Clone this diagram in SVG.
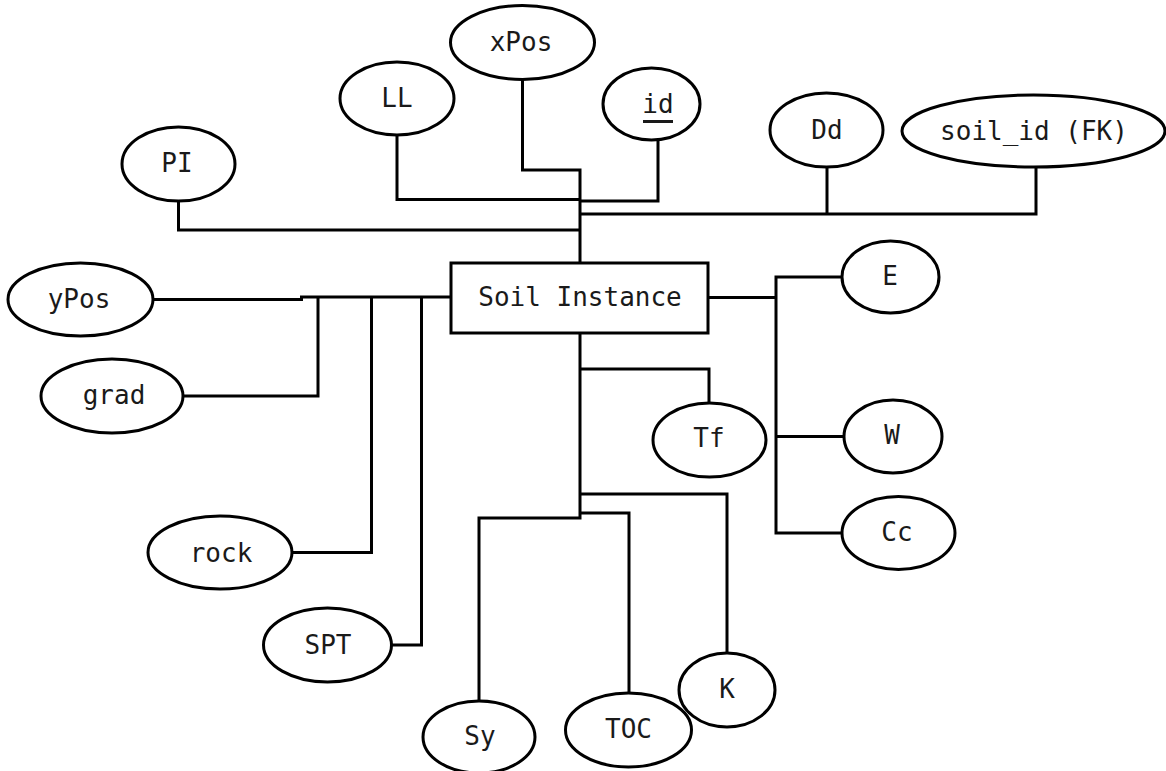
<svg xmlns="http://www.w3.org/2000/svg" width="1166" height="771" viewBox="0 0 1166 771">
  <style>
    .attr ellipse, .entity rect { fill: #ffffff; stroke: #000000; stroke-width: 3; }
    text { font-family: "DejaVu Sans Mono", "Liberation Mono", monospace; font-size: 26px; fill: #1a1a1a; text-anchor: middle; }
    #connectors path { fill: none; stroke: #000000; stroke-width: 3; stroke-linejoin: miter; }
  </style>
  <rect width="1166" height="771" fill="#ffffff"/>

  <!-- connectors: elbow lines from each attribute to the entity -->
  <g id="connectors">
    <!-- top group -->
    <path d="M522.5,80 V170 H580 V263"/>
    <path d="M397,135 V199.5 H580"/>
    <path d="M658,141 V201 H580"/>
    <path d="M580,214 H1036 V167"/>
    <path d="M827,167 V214"/>
    <path d="M178.5,201 V230 H580"/>
    <!-- left group -->
    <path d="M153,299.5 H303"/>
    <path d="M300,297 H451"/>
    <path d="M183,396 H318 V297"/>
    <path d="M292,552.5 H371.5 V297"/>
    <path d="M391.5,645 H421.5 V297"/>
    <!-- right group -->
    <path d="M708,297.5 H776"/>
    <path d="M842,277 H776 V533 H842"/>
    <path d="M776,436.5 H844"/>
    <!-- bottom group -->
    <path d="M580,333 V518 H479 V701"/>
    <path d="M580,369 H709 V403"/>
    <path d="M580,494 H727 V653"/>
    <path d="M580,513 H629 V693"/>
  </g>

  <!-- entity -->
  <g id="soil-instance" class="entity">
    <rect x="451" y="263" width="257" height="70"/>
    <text x="580" y="306">Soil Instance</text>
  </g>

  <!-- attributes -->
  <g id="attr-xPos" class="attr">
    <ellipse cx="522.5" cy="42.5" rx="72" ry="37"/>
    <text x="521" y="51">xPos</text>
  </g>
  <g id="attr-LL" class="attr">
    <ellipse cx="397" cy="98.5" rx="57" ry="36.5"/>
    <text x="397" y="107">LL</text>
  </g>
  <g id="attr-id" class="attr">
    <ellipse cx="651.5" cy="104" rx="48.5" ry="36"/>
    <text x="658" y="113">id</text>
    <line x1="643" y1="121.5" x2="673" y2="121.5" stroke="#1a1a1a" stroke-width="3"/>
  </g>
  <g id="attr-Dd" class="attr">
    <ellipse cx="826.5" cy="130" rx="56.5" ry="37"/>
    <text x="827" y="139">Dd</text>
  </g>
  <g id="attr-soil_id" class="attr">
    <ellipse cx="1033.5" cy="131" rx="131.5" ry="36"/>
    <text x="1034" y="140">soil_id (FK)</text>
  </g>
  <g id="attr-PI" class="attr">
    <ellipse cx="178.5" cy="164" rx="56.5" ry="37"/>
    <text x="177" y="172">PI</text>
  </g>
  <g id="attr-yPos" class="attr">
    <ellipse cx="80.5" cy="299.5" rx="72.5" ry="36.5"/>
    <text x="79" y="308">yPos</text>
  </g>
  <g id="attr-grad" class="attr">
    <ellipse cx="112" cy="396" rx="71" ry="37"/>
    <text x="114" y="404">grad</text>
  </g>
  <g id="attr-rock" class="attr">
    <ellipse cx="220" cy="552.5" rx="72" ry="36.5"/>
    <text x="221" y="562">rock</text>
  </g>
  <g id="attr-SPT" class="attr">
    <ellipse cx="327.5" cy="645" rx="64" ry="37"/>
    <text x="328" y="654">SPT</text>
  </g>
  <g id="attr-Sy" class="attr">
    <ellipse cx="479" cy="737" rx="56" ry="36"/>
    <text x="480" y="745">Sy</text>
  </g>
  <g id="attr-TOC" class="attr">
    <ellipse cx="628.5" cy="730" rx="63" ry="37"/>
    <text x="628.5" y="738">TOC</text>
  </g>
  <g id="attr-K" class="attr">
    <ellipse cx="727" cy="690" rx="48" ry="37"/>
    <text x="727" y="698">K</text>
  </g>
  <g id="attr-Tf" class="attr">
    <ellipse cx="709.5" cy="440" rx="56.5" ry="37"/>
    <text x="709" y="447">Tf</text>
  </g>
  <g id="attr-E" class="attr">
    <ellipse cx="890.5" cy="277" rx="48.5" ry="36"/>
    <text x="890" y="285">E</text>
  </g>
  <g id="attr-W" class="attr">
    <ellipse cx="893" cy="436.5" rx="49" ry="36.5"/>
    <text x="892" y="444">W</text>
  </g>
  <g id="attr-Cc" class="attr">
    <ellipse cx="898.5" cy="533" rx="56.5" ry="36.5"/>
    <text x="897" y="541">Cc</text>
  </g>
</svg>
